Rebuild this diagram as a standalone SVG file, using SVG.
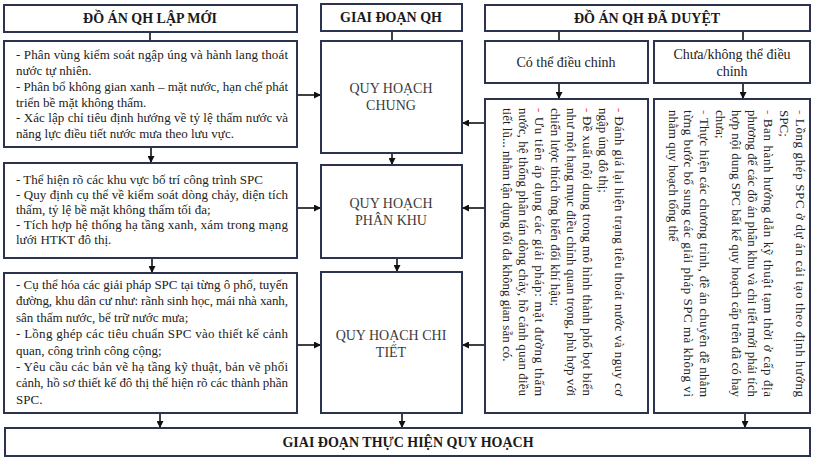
<svg xmlns="http://www.w3.org/2000/svg" width="814" height="460" viewBox="0 0 814 460">
<defs>
<style>
text{font-family:"Liberation Serif","Times New Roman",Tinos,"DejaVu Serif",serif}
.box{fill:#fff;stroke:#2a3350;stroke-width:2}
.hd{font-weight:bold;font-size:14px;fill:#1a1a1a;text-anchor:middle}
.mid{font-size:14px;fill:#3c3c3c;text-anchor:middle}
.sub{font-size:14px;fill:#222;text-anchor:middle}
.tx{font-size:13px;fill:#222}
.rd{fill:#e04848}
.ln{stroke:#111;stroke-width:1.6;fill:none}
.ar{stroke:#111;stroke-width:1.6;fill:none;marker-end:url(#ah)}
</style>
<marker id="ah" viewBox="0 0 10 10" refX="10" refY="5" markerWidth="7" markerHeight="7" markerUnits="userSpaceOnUse" orient="auto"><path d="M0,0 L10,5 L0,10 z" fill="#111"/></marker>
</defs>
<rect width="814" height="460" fill="#fff"/>

<g id="connectors">
<line class="ln" x1="150" y1="32" x2="150" y2="41"/>
<line class="ar" x1="151" y1="147" x2="151" y2="163"/>
<line class="ar" x1="152" y1="258" x2="152" y2="273"/>
<line class="ar" x1="160" y1="413" x2="160" y2="428"/>
<line class="ln" x1="392" y1="31" x2="392" y2="41"/>
<line class="ar" x1="392" y1="153" x2="392" y2="165"/>
<line class="ar" x1="397" y1="258" x2="397" y2="272"/>
<line class="ar" x1="402" y1="413" x2="402" y2="428"/>
<line class="ar" x1="297" y1="95" x2="321" y2="95"/>
<line class="ar" x1="297" y1="208" x2="321" y2="208"/>
<line class="ar" x1="297" y1="345" x2="321" y2="345"/>
<line class="ar" x1="485" y1="123" x2="462" y2="123"/>
<line class="ar" x1="485" y1="208" x2="462" y2="208"/>
<line class="ar" x1="485" y1="345" x2="462" y2="345"/>
<line class="ln" x1="559" y1="31" x2="559" y2="41"/>
<line class="ln" x1="743" y1="31" x2="743" y2="41"/>
<line class="ar" x1="559" y1="83" x2="559" y2="99"/>
<line class="ar" x1="743" y1="83" x2="743" y2="99"/>
<line class="ar" x1="745" y1="413" x2="745" y2="428"/>
</g>

<g id="left-header">
<rect class="box" x="4" y="5" width="293" height="27"/>
<text class="hd" x="150" y="23">ĐỒ ÁN QH LẬP MỚI</text>
</g>

<g id="left-1">
<rect class="box" x="4" y="41" width="293" height="106"/>
<text class="tx">
<tspan x="16" y="59" textLength="272" lengthAdjust="spacing">- Phân vùng kiểm soát ngập úng và hành lang thoát</tspan>
<tspan x="16" y="75">nước tự nhiên.</tspan>
<tspan x="16" y="91" textLength="272" lengthAdjust="spacing">- Phân bổ không gian xanh – mặt nước, hạn chế phát</tspan>
<tspan x="16" y="107">triển bề mặt không thấm.</tspan>
<tspan x="16" y="122" textLength="272" lengthAdjust="spacing">- Xác lập chỉ tiêu định hướng về tỷ lệ thấm nước và</tspan>
<tspan x="16" y="138">năng lực điều tiết nước mưa theo lưu vực.</tspan>
</text>
</g>

<g id="left-2">
<rect class="box" x="4" y="163" width="293" height="95"/>
<text class="tx">
<tspan x="16" y="184">- Thể hiện rõ các khu vực bố trí công trình SPC</tspan>
<tspan x="16" y="199" textLength="272" lengthAdjust="spacing">- Quy định cụ thể về kiểm soát dòng chảy, diện tích</tspan>
<tspan x="16" y="214">thấm, tỷ lệ bề mặt không thấm tối đa;</tspan>
<tspan x="16" y="229" textLength="272" lengthAdjust="spacing">- Tích hợp hệ thống hạ tầng xanh, xám trong mạng</tspan>
<tspan x="16" y="244">lưới HTKT đô thị.</tspan>
</text>
</g>

<g id="left-3">
<rect class="box" x="4" y="273" width="293" height="140"/>
<text class="tx">
<tspan x="16" y="289" textLength="272" lengthAdjust="spacing">- Cụ thể hóa các giải pháp SPC tại từng ô phố, tuyến</tspan>
<tspan x="16" y="305" textLength="272" lengthAdjust="spacing">đường, khu dân cư như: rãnh sinh học, mái nhà xanh,</tspan>
<tspan x="16" y="322">sân thấm nước, bể trữ nước mưa;</tspan>
<tspan x="16" y="338" textLength="272" lengthAdjust="spacing">- Lồng ghép các tiêu chuẩn SPC vào thiết kế cảnh</tspan>
<tspan x="16" y="355">quan, công trình công cộng;</tspan>
<tspan x="16" y="371" textLength="272" lengthAdjust="spacing">- Yêu cầu các bản vẽ hạ tầng kỹ thuật, bản vẽ phối</tspan>
<tspan x="16" y="387" textLength="272" lengthAdjust="spacing">cảnh, hồ sơ thiết kế đô thị thể hiện rõ các thành phần</tspan>
<tspan x="16" y="404">SPC.</tspan>
</text>
</g>

<g id="mid-header">
<rect class="box" x="321" y="4" width="141" height="27"/>
<text class="hd" x="391" y="22">GIAI ĐOẠN QH</text>
</g>

<g id="qh-chung">
<rect class="box" x="321" y="41" width="141" height="112"/>
<text class="mid"><tspan x="391" y="93">QUY HOẠCH</tspan><tspan x="391" y="110">CHUNG</tspan></text>
</g>

<g id="qh-phan-khu">
<rect class="box" x="321" y="165" width="141" height="93"/>
<text class="mid"><tspan x="391" y="208">QUY HOẠCH</tspan><tspan x="391" y="225">PHÂN KHU</tspan></text>
</g>

<g id="qh-chi-tiet">
<rect class="box" x="321" y="272" width="141" height="141"/>
<text class="mid"><tspan x="391" y="340">QUY HOẠCH CHI</tspan><tspan x="391" y="357">TIẾT</tspan></text>
</g>

<g id="right-header">
<rect class="box" x="485" y="5" width="325" height="26"/>
<text class="hd" x="647" y="23">ĐỒ ÁN QH ĐÃ DUYỆT</text>
</g>

<g id="co-the">
<rect class="box" x="485" y="41" width="163" height="42"/>
<text class="sub" x="566" y="67">Có thể điều chỉnh</text>
</g>

<g id="chua-the">
<rect class="box" x="654" y="41" width="156" height="42"/>
<text class="sub"><tspan x="732" y="59">Chưa/không thể điều</tspan><tspan x="732" y="76">chỉnh</tspan></text>
</g>

<g id="detail-co-the">
<rect class="box" x="485" y="99" width="163" height="314"/>
<g transform="translate(630,108) rotate(90)">
<text class="tx">
<tspan x="0" y="15" textLength="288" lengthAdjust="spacing"><tspan class="rd">-</tspan> Đánh giá lại hiện trạng tiêu thoát nước và nguy cơ</tspan>
<tspan x="0" y="31">ngập úng đô thị;</tspan>
<tspan x="0" y="47" textLength="288" lengthAdjust="spacing"><tspan class="rd">-</tspan> Đề xuất nội dung trong mô hình thành phố bọt biển</tspan>
<tspan x="0" y="63" textLength="288" lengthAdjust="spacing">như một hạng mục điều chỉnh quan trọng, phù hợp với</tspan>
<tspan x="0" y="79">chiến lược thích ứng biến đổi khí hậu;</tspan>
<tspan x="0" y="95" textLength="288" lengthAdjust="spacing"><tspan class="rd">-</tspan> Ưu tiên áp dụng các giải pháp: mặt đường thấm</tspan>
<tspan x="0" y="111" textLength="288" lengthAdjust="spacing">nước, hệ thống phân tán dòng chảy, hồ cảnh quan điều</tspan>
<tspan x="0" y="127">tiết lũ... nhằm tận dụng tối đa không gian sẵn có.</tspan>
</text>
</g>
</g>

<g id="detail-chua-the">
<rect class="box" x="654" y="99" width="156" height="314"/>
<g transform="translate(811,110) rotate(90)">
<text class="tx">
<tspan x="0" y="15" textLength="287" lengthAdjust="spacing"><tspan class="rd">-</tspan> Lồng ghép SPC ở dự án cải tạo theo định hướng</tspan>
<tspan x="0" y="31">SPC;</tspan>
<tspan x="0" y="47" textLength="287" lengthAdjust="spacing"><tspan class="rd">-</tspan> Ban hành hướng dẫn kỹ thuật tạm thời ở cấp địa</tspan>
<tspan x="0" y="63" textLength="287" lengthAdjust="spacing">phương để các đồ án phân khu và chi tiết mới phải tích</tspan>
<tspan x="0" y="79" textLength="287" lengthAdjust="spacing">hợp nội dung SPC bất kể quy hoạch cấp trên đã có hay</tspan>
<tspan x="0" y="95">chưa;</tspan>
<tspan x="0" y="111" textLength="287" lengthAdjust="spacing"><tspan class="rd">-</tspan> Thực hiện các chương trình, đề án chuyên đề nhằm</tspan>
<tspan x="0" y="127" textLength="287" lengthAdjust="spacing">từng bước bổ sung các giải pháp SPC mà không vì</tspan>
<tspan x="0" y="142">nhằm quy hoạch tổng thể</tspan>
</text>
</g>
</g>

<g id="thuc-hien">
<rect class="box" x="5" y="428" width="805" height="28"/>
<text class="hd" x="408" y="447">GIAI ĐOẠN THỰC HIỆN QUY HOẠCH</text>
</g>
</svg>
